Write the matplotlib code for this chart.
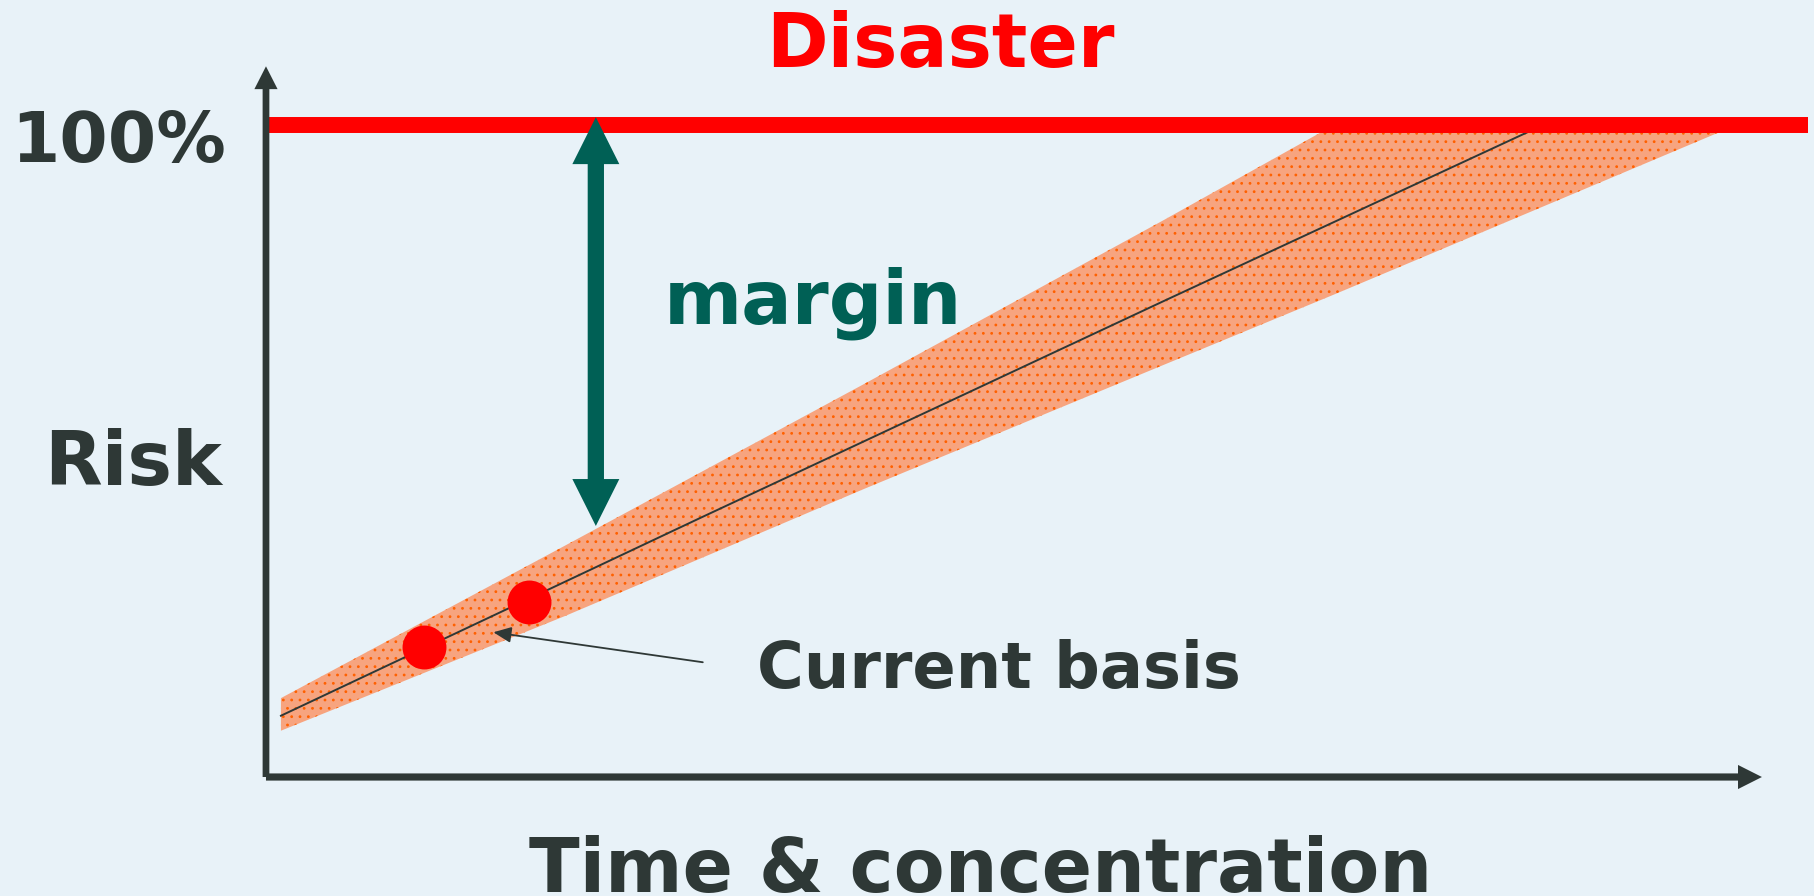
#!/usr/bin/env python3
"""
Risk vs time & concentration sketch: uncertainty band, margin to disaster
"""

import matplotlib
matplotlib.use('Agg')
import matplotlib.pyplot as plt

plt.rcParams['font.family'] = ['DejaVu Sans']
plt.rcParams['hatch.linewidth'] = 0.8

# data (x: time & concentration, y: risk in %)
band_x = [1.0, 20.0, 40.0, 60.0, 71.4, 80.0, 98.3]
band_upper = [12.1, 35.5, 60.3, 85.4, 100.0, 100.0, 100.0]
band_lower = [7.1, 24.7, 44.2, 63.2, 74.0, 82.3, 100.0]

trend_x = [1.0, 29.0, 60.2, 84.9]
trend_y = [9.4, 39.7, 73.2, 99.5]

basis_x = [10.56, 17.6]
basis_y = [19.9, 26.8]

disaster_level = 100.0
disaster_end = 103.1
margin_x = 22.05
margin_bottom = 38.5

DARK = '#2e3836'
TEAL = '#006055'
RED = '#ff0000'
BG = '#e8f2f8'

fig = plt.figure(figsize=(18.14, 8.96), dpi=100, facecolor=BG)
ax = fig.add_axes([0, 0, 1, 1])
ax.set_facecolor(BG)
ax.set_xlim(-17.78, 103.48)
ax.set_ylim(-18.25, 119.17)
ax.axis('off')

# uncertainty band
ax.fill_between(band_x, band_lower, band_upper, facecolor='#f7a47f',
                edgecolor='#ff6000', hatch='..', linewidth=0, zorder=2)
ax.plot(trend_x, trend_y, color=DARK, lw=1.4, zorder=3)

# disaster line
ax.plot([-0.2, disaster_end], [disaster_level, disaster_level], color=RED,
        lw=11.5, solid_capstyle='butt', zorder=4)

# axes arrows
ax.arrow(0, 0, 100, 0, width=1.1, head_width=3.7, head_length=1.6,
         length_includes_head=True, color=DARK, lw=0, zorder=5)
ax.arrow(0, 0, 0, 109, width=0.45, head_width=1.55, head_length=3.5,
         length_includes_head=True, color=DARK, lw=0, zorder=5)

# margin double arrow: two arrows, each starting inside the other's head
top = disaster_level + 1.2
head_len = 7.2
for start, end in ((margin_bottom + head_len * 0.6, top),
                   (top - head_len * 0.6, margin_bottom)):
    ax.arrow(margin_x, start, 0, end - start, width=1.07,
             head_width=3.14, head_length=head_len, length_includes_head=True,
             color=TEAL, lw=0, zorder=6)

# current basis points
ax.scatter(basis_x, basis_y, s=1000, color=RED, linewidths=0, zorder=7)
ax.annotate('', xy=(15.2, 22.2), xytext=(29.2, 17.6),
            arrowprops=dict(arrowstyle='-|>,head_length=0.9,head_width=0.4',
                            color=DARK, lw=1.3, mutation_scale=12,
                            shrinkA=0, shrinkB=0), zorder=8)

# labels
ax.text(32.8, 13.65, 'Current basis', fontsize=46, fontweight='bold',
        color=DARK, ha='left', va='baseline')
ax.text(26.6, 69.6, 'margin', fontsize=54, fontweight='bold',
        color=TEAL, ha='left', va='baseline')
ax.text(45.05, 108.9, 'Disaster', fontsize=53.5, fontweight='bold',
        color=RED, ha='center', va='baseline')
ax.text(-17.0, 94.3, '100%', fontsize=50, fontweight='bold',
        color=DARK, ha='left', va='baseline')
ax.text(-14.8, 44.8, 'Risk', fontsize=54, fontweight='bold',
        color=DARK, ha='left', va='baseline')
ax.text(47.8, -17.6, 'Time & concentration', fontsize=53.5, fontweight='bold',
        color=DARK, ha='center', va='baseline')

plt.savefig('out.png', dpi=100, facecolor=BG)
plt.close()
